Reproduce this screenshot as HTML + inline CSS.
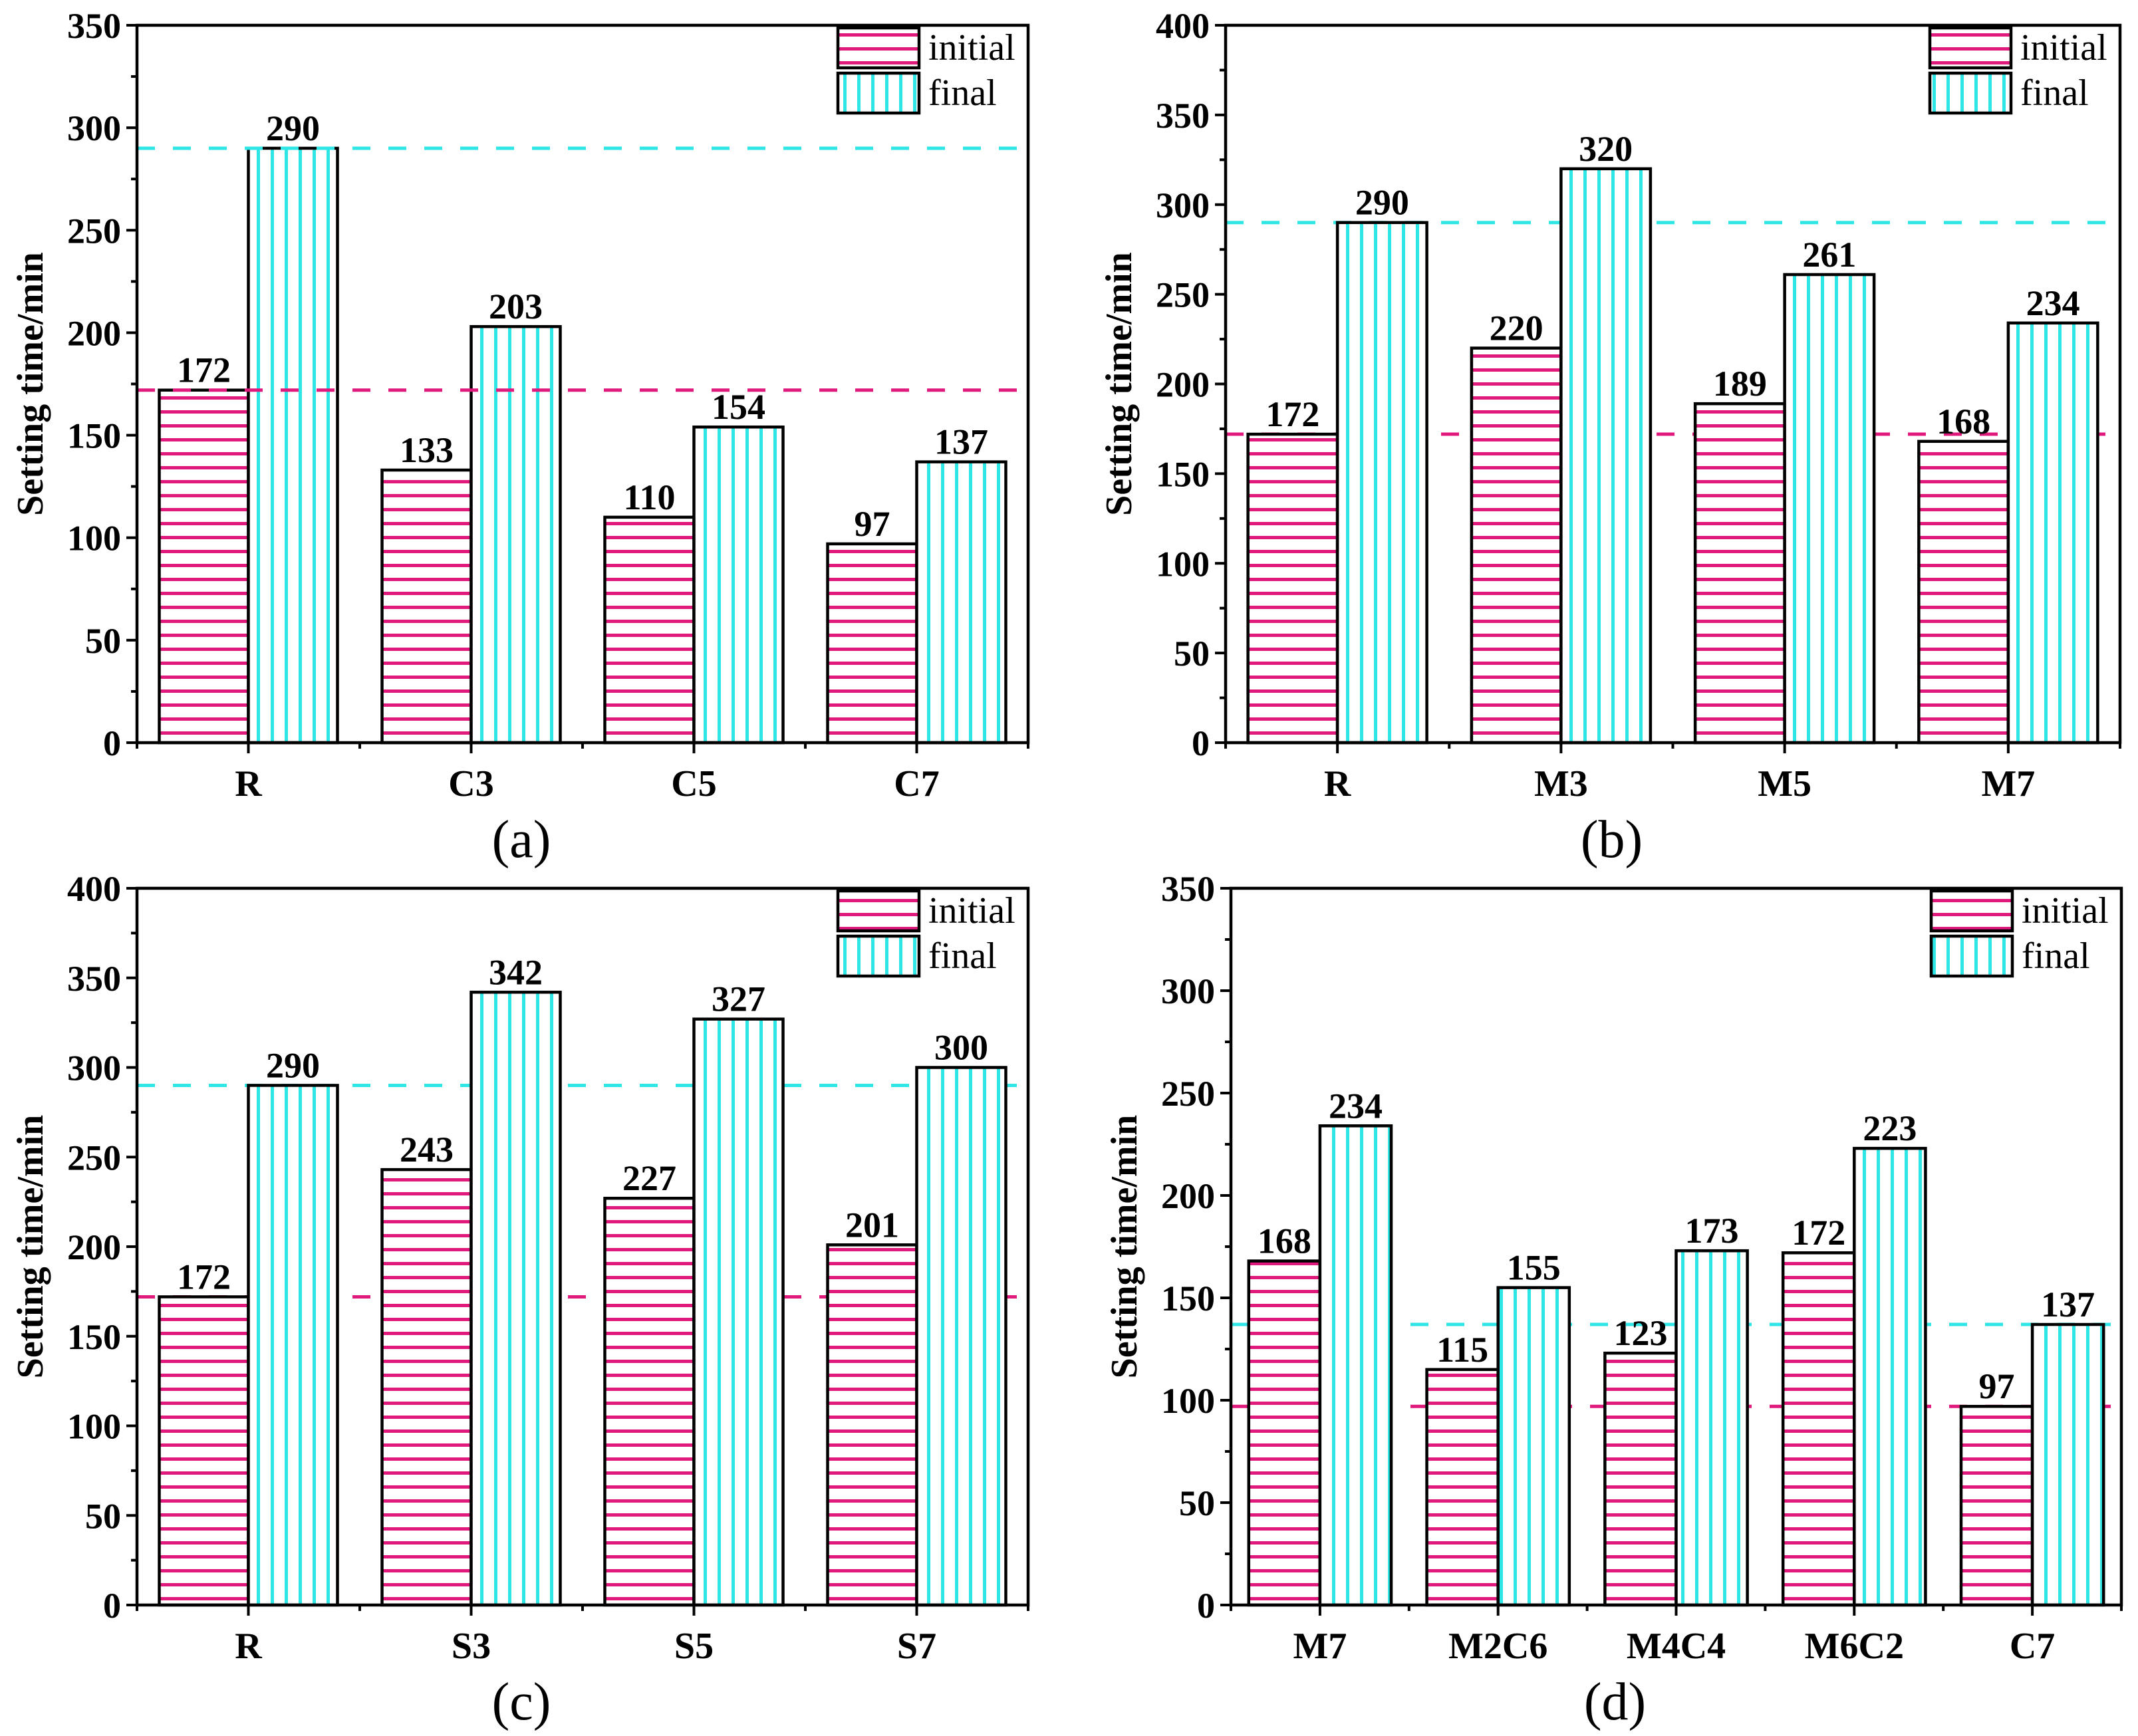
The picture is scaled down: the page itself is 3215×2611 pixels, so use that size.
<!DOCTYPE html>
<html><head><meta charset="utf-8"><style>
html,body{margin:0;padding:0;background:#fff;}
svg{display:block;}
text{font-family:"Liberation Serif","Times New Roman",serif;}
</style></head><body>
<svg id="fig" width="3215" height="2611" viewBox="0 0 3215 2611" xmlns="http://www.w3.org/2000/svg">
<defs>
<pattern id="hatchH" patternUnits="userSpaceOnUse" width="20" height="21"><rect width="20" height="21" fill="#fff"/><rect y="8" width="20" height="5" fill="#e0197d"/></pattern>
<pattern id="hatchV" patternUnits="userSpaceOnUse" width="21" height="20"><rect width="21" height="20" fill="#fff"/><rect x="8" width="5" height="20" fill="#2ee6e6"/></pattern>
</defs>
</svg>
<script>
// Panel (a)
const catsA = ["R","C3","C5","C7"];
const initA = [172,133,110,97];
const finalA = [290,203,154,137];
const ticksA = [0,50,100,150,200,250,300,350];
// Panel (b)
const catsB = ["R","M3","M5","M7"];
const initB = [172,220,189,168];
const finalB = [290,320,261,234];
const ticksB = [0,50,100,150,200,250,300,350,400];
// Panel (c)
const catsC = ["R","S3","S5","S7"];
const initC = [172,243,227,201];
const finalC = [290,342,327,300];
const ticksC = [0,50,100,150,200,250,300,350,400];
// Panel (d)
const catsD = ["M7","M2C6","M4C4","M6C2","C7"];
const initD = [168,115,123,172,97];
const finalD = [234,155,173,223,137];
const ticksD = [0,50,100,150,200,250,300,350];

const NS="http://www.w3.org/2000/svg";
const svg=document.getElementById('fig');
const FF='"Liberation Serif", serif';
function mk(tag,attrs,parent,txt){const e=document.createElementNS(NS,tag);for(const k in attrs)e.setAttribute(k,attrs[k]);if(tag==='text')e.setAttribute('font-family',FF);if(txt!==undefined)e.textContent=txt;(parent||svg).appendChild(e);return e;}

function panel(id,L,R,T,B,cats,ini,fin,ticks,refIni,refFin,letter,dashFront){
  const g=mk('g',{});
  
  
  const ymax=ticks[ticks.length-1];
  const y=v=>B-(v/ymax)*(B-T);
  const cw=(R-L)/cats.length;
  const xc=i=>L+cw*(i+0.5);
  const bw=cw*0.4;
  function dashes(){
    const d1=mk('line',{x1:L,x2:R,y1:y(refIni),y2:y(refIni),stroke:'#e0197d','stroke-width':5,'stroke-dasharray':'27 27'},g);
    
    
    const d2=mk('line',{x1:L,x2:R,y1:y(refFin),y2:y(refFin),stroke:'#2ee6e6','stroke-width':5,'stroke-dasharray':'27 27'},g);
    
    
  }
  if(!dashFront)dashes();
  cats.forEach((c,i)=>{
    const b1=mk('rect',{x:xc(i)-bw,y:y(ini[i]),width:bw,height:B-y(ini[i]),fill:'url(#hatchH)',stroke:'#000','stroke-width':4.5},g);
    
    
    const b2=mk('rect',{x:xc(i),y:y(fin[i]),width:bw,height:B-y(fin[i]),fill:'url(#hatchV)',stroke:'#000','stroke-width':4.5},g);
    
    
    const t1=mk('text',{x:xc(i)-bw/2,y:y(ini[i])-12,'text-anchor':'middle','font-size':54,'font-weight':'bold'},g,String(ini[i]));
    
    
    const t2=mk('text',{x:xc(i)+bw/2,y:y(fin[i])-12,'text-anchor':'middle','font-size':54,'font-weight':'bold'},g,String(fin[i]));
    
    
    const cl=mk('text',{x:xc(i),y:B+80,'text-anchor':'middle','font-size':56,'font-weight':'bold'},g,c);
    
    
    mk('line',{x1:xc(i),x2:xc(i),y1:B,y2:B+16,stroke:'#000','stroke-width':4},g);
    mk('line',{x1:L+cw*i,x2:L+cw*i,y1:B,y2:B+9,stroke:'#000','stroke-width':4},g);
  });
  mk('line',{x1:R,x2:R,y1:B,y2:B+9,stroke:'#000','stroke-width':4},g);
  if(dashFront)dashes();
  ticks.forEach((v,k)=>{
    mk('line',{x1:L-16,x2:L,y1:y(v),y2:y(v),stroke:'#000','stroke-width':4},g);
    if(k<ticks.length-1){const m=(v+ticks[k+1])/2;mk('line',{x1:L-9,x2:L,y1:y(m),y2:y(m),stroke:'#000','stroke-width':4},g);}
    const tl=mk('text',{x:L-24,y:y(v)+19,'text-anchor':'end','font-size':54,'font-weight':'bold'},g,String(v));
    
    
  });
  const fr=mk('rect',{x:L,y:T,width:R-L,height:B-T,fill:'none',stroke:'#000','stroke-width':4.5},g);
  
  
  const yt=mk('text',{x:0,y:0,transform:`translate(${L-142},${(T+B)/2}) rotate(-90)`,'text-anchor':'middle','font-size':56,'font-weight':'bold'},g,'Setting time/min');
  
  
  const pl=mk('text',{x:(L+R)/2-92,y:B+172,'text-anchor':'middle','font-size':80},g,'('+letter+')');
  
  
  const lx=R-286, ly=T+4;
  const lg=mk('g',{},g);
  
  
  mk('rect',{x:lx,y:ly,width:122,height:60,fill:'url(#hatchH)',stroke:'#000','stroke-width':4.5},lg);
  mk('rect',{x:lx,y:ly+68,width:122,height:60,fill:'url(#hatchV)',stroke:'#000','stroke-width':4.5},lg);
  const e1=mk('text',{x:lx+136,y:ly+48,'font-size':56},lg,'initial');
  
  
  const e2=mk('text',{x:lx+136,y:ly+116,'font-size':56},lg,'final');
  
  
}
panel('a',206,1546,38,1117,catsA,initA,finalA,ticksA,172,290,'a',true);
panel('b',1843,3188,38,1117,catsB,initB,finalB,ticksB,172,290,'b',false);
panel('c',206,1546,1336,2414,catsC,initC,finalC,ticksC,172,290,'c',false);
panel('d',1851,3190,1336,2414,catsD,initD,finalD,ticksD,97,137,'d',false);
</script>
</body></html>
